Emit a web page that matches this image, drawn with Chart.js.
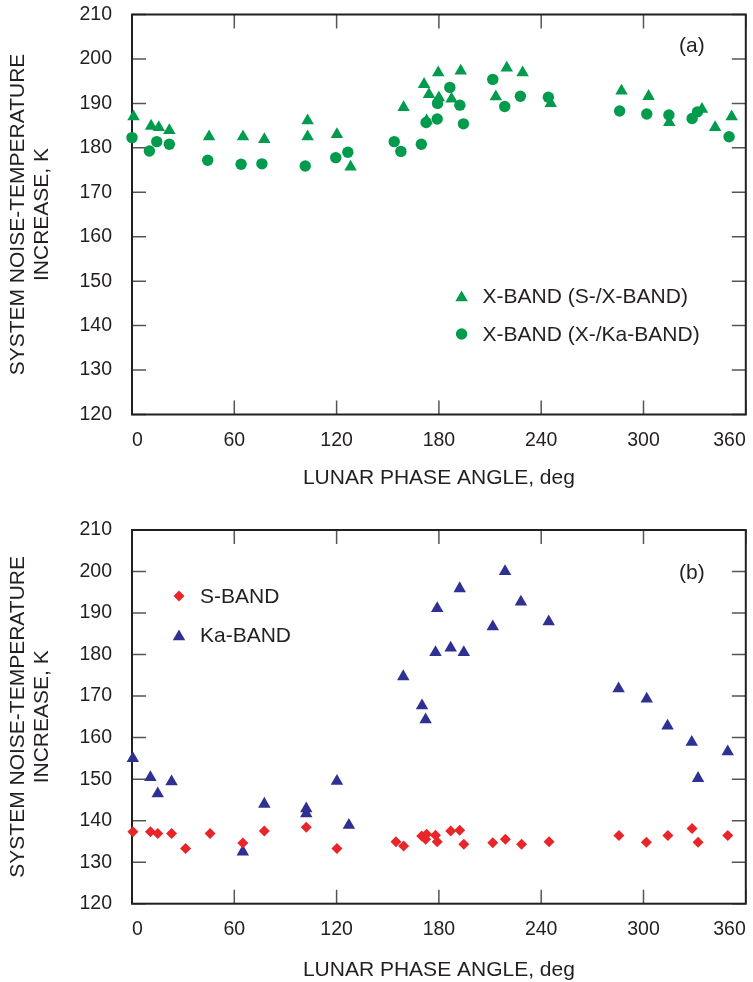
<!DOCTYPE html>
<html>
<head>
<meta charset="utf-8">
<script src="https://cdn.jsdelivr.net/npm/chart.js@4.4.0/dist/chart.umd.min.js"></script>
<style>
  html, body { margin: 0; padding: 0; background: #fff; overflow: hidden; }
  canvas { display: block; }
</style>
</head>
<body>
<canvas id="chartA" width="753" height="490"></canvas>
<canvas id="chartB" width="753" height="492"></canvas>
<script>
// panel (a): X-band, from S-/X-band and X-/Ka-band runs
const anglesXS = [0.9, 11.2, 15.7, 21.9, 45.2, 65.1, 77.6, 103, 103, 120.2, 128.2, 159.3, 171.3, 174.2, 172.8,
  179.6, 180, 187.4, 192.8, 213.4, 219.8, 229.1, 245.6, 287.1, 303, 315.1, 334.3, 342, 351.7];
const tempXS = [187.0, 184.9, 184.6, 183.9, 182.5, 182.5, 181.9, 186.1, 182.5, 183.0, 175.7, 189.1, 194.3, 192.0, 186.1,
  196.9, 191.3, 191.0, 197.3, 191.5, 198.0, 196.9, 190.0, 192.8, 191.6, 185.7, 188.7, 184.6, 187.0];

const anglesXKa = [0, 10.2, 14.5, 21.9, 44.4, 64, 76.2, 101.6, 119.5, 126.6, 153.8, 157.7, 169.7, 172.5, 179,
  179.2, 186.4, 192.3, 194.4, 211.6, 218.6, 227.8, 244.2, 286, 301.9, 314.9, 328.5, 331.7, 350.2];
const tempXKa = [182.3, 179.3, 181.4, 180.8, 177.2, 176.3, 176.4, 175.9, 177.8, 179.0, 181.4, 179.2, 180.8, 185.7, 186.5,
  190.0, 193.6, 189.6, 185.4, 195.4, 189.3, 191.6, 191.4, 188.3, 187.6, 187.4, 186.6, 188.1, 182.5];

// panel (b): S-band and Ka-band
const anglesS = [0.5, 10.8, 15.1, 23.2, 31.4, 45.8, 65, 77.6, 102.2, 120.2, 154.8, 159.3, 169.9, 172.8, 172.2,
  178, 179, 186.9, 192.2, 194.6, 211.6, 219, 228.5, 244.6, 285.6, 301.7, 314.3, 328.5, 332, 349.4];
const tempS = [137.3, 137.3, 136.9, 136.9, 133.3, 136.9, 134.6, 137.5, 138.4, 133.3, 134.9, 133.9, 136.3, 136.7, 135.5,
  136.5, 134.9, 137.5, 137.7, 134.3, 134.7, 135.5, 134.3, 134.9, 136.4, 134.8, 136.4, 138.1, 134.8, 136.4];

const anglesKa = [0.5, 10.8, 15.1, 23.2, 65, 77.6, 102.2, 102.2, 120.2, 127.2, 159.1, 170.1, 172.2, 178, 179,
  186.9, 192.2, 194.6, 211.6, 218.8, 228.1, 244.4, 285.4, 301.9, 314.1, 328.3, 332, 349.4];
const tempKa = [155.0, 150.4, 146.5, 149.4, 132.5, 144.0, 142.9, 141.7, 149.5, 138.9, 174.7, 167.7, 164.3, 180.5, 191.1,
  181.6, 195.9, 180.5, 186.7, 200.0, 192.7, 187.9, 171.8, 169.3, 162.8, 158.9, 150.2, 156.6];

const xTicks = [0, 60, 120, 180, 240, 300, 360];
const yTicks = [120, 130, 140, 150, 160, 170, 180, 190, 200, 210];

const GREEN = '#009B4D';
const RED = '#E8262A';
const BLUE = '#2E3192';
const INK = '#231F20';
const FONT = "'Liberation Sans', Arial, Helvetica, sans-serif";

function pts(xs, ys) {
  return xs.map((x, i) => ({ x: x, y: ys[i] }));
}

function drawMarker(ctx, shape, x, y, r, color) {
  ctx.fillStyle = color;
  ctx.beginPath();
  if (shape === 'triangle') {
    ctx.moveTo(x, y - r);
    ctx.lineTo(x + 0.866 * r, y + 0.5 * r);
    ctx.lineTo(x - 0.866 * r, y + 0.5 * r);
  } else if (shape === 'circle') {
    ctx.arc(x, y, r, 0, Math.PI * 2);
  } else {
    ctx.moveTo(x - r, y);
    ctx.lineTo(x, y - r);
    ctx.lineTo(x + r, y);
    ctx.lineTo(x, y + r);
  }
  ctx.closePath();
  ctx.fill();
}

// box with inward ticks on all four sides
const framePlugin = {
  id: 'frame',
  beforeDatasetsDraw(chart) {
    const { ctx, chartArea: a, scales } = chart;
    ctx.save();
    ctx.strokeStyle = '#555';
    ctx.lineWidth = 1.5;
    ctx.beginPath();
    xTicks.forEach(v => {
      const px = scales.x.getPixelForValue(v);
      ctx.moveTo(px, a.top); ctx.lineTo(px, a.top + 14);
      ctx.moveTo(px, a.bottom); ctx.lineTo(px, a.bottom - 14);
    });
    yTicks.forEach(v => {
      const py = scales.y.getPixelForValue(v);
      ctx.moveTo(a.left, py); ctx.lineTo(a.left + 14, py);
      ctx.moveTo(a.right, py); ctx.lineTo(a.right - 14, py);
    });
    ctx.stroke();
    ctx.strokeStyle = INK;
    ctx.lineWidth = 2;
    ctx.strokeRect(a.left, a.top, a.right - a.left, a.bottom - a.top);
    ctx.restore();
  }
};

function makeKey(items, dx, dy, gap, tag, tagDy) {
  return {
    id: 'key',
    afterDatasetsDraw(chart) {
      const { ctx, chartArea: a } = chart;
      ctx.save();
      ctx.font = '21px ' + FONT;
      ctx.textBaseline = 'middle';
      items.forEach((it, i) => {
        const mx = a.left + dx, my = a.top + dy + i * gap;
        drawMarker(ctx, it.shape, mx, it.shape === 'triangle' ? my + 1.7 : my, it.r, it.color);
        ctx.fillStyle = INK;
        ctx.textAlign = 'left';
        ctx.fillText(it.label, mx + 21, my + 1);
      });
      ctx.textAlign = 'center';
      ctx.fillText(tag, a.right - 54, a.top + tagDy);
      ctx.restore();
    }
  };
}

function makeChart(id, datasets, padTop, xHeight, titlePadBottom, key) {
  return new Chart(document.getElementById(id), {
    type: 'scatter',
    data: { datasets: datasets },
    options: {
      responsive: false,
      animation: false,
      events: [],
      layout: { padding: { top: padTop, left: 0, right: 2, bottom: 0 } },
      plugins: { legend: { display: false }, tooltip: { enabled: false } },
      scales: {
        x: {
          type: 'linear', min: 0, max: 360,
          afterBuildTicks: s => { s.ticks = xTicks.map(v => ({ value: v })); },
          afterFit: s => { s.height = xHeight; s.paddingLeft = 0; s.paddingRight = 0; },
          grid: { display: false, drawTicks: false },
          border: { display: false },
          ticks: { color: INK, font: { family: FONT, size: 19.5 }, padding: 14, align: 'inner', maxRotation: 0 },
          title: {
            display: true, text: 'LUNAR PHASE ANGLE, deg', color: INK,
            font: { family: FONT, size: 21, lineHeight: 1.15 },
            padding: { top: 0, bottom: titlePadBottom }
          }
        },
        y: {
          type: 'linear', min: 120, max: 210,
          afterBuildTicks: s => { s.ticks = yTicks.map(v => ({ value: v })); },
          afterFit: s => { s.width = 132; s.paddingTop = 0; s.paddingBottom = 0; },
          grid: { display: false, drawTicks: false },
          border: { display: false },
          ticks: { color: INK, font: { family: FONT, size: 19.5 }, padding: 20 },
          title: {
            display: true, text: ['SYSTEM NOISE-TEMPERATURE', 'INCREASE, K'], color: INK,
            font: { family: FONT, size: 21, lineHeight: 1.15 },
            padding: { top: 6, bottom: 0 }
          }
        }
      }
    },
    plugins: [framePlugin, key]
  });
}

makeChart('chartA', [
  { label: 'X-BAND (X-/Ka-BAND)', data: pts(anglesXKa, tempXKa), pointStyle: 'circle', pointRadius: 5.7,
    backgroundColor: GREEN, borderColor: GREEN, borderWidth: 0, clip: false },
  { label: 'X-BAND (S-/X-BAND)', data: pts(anglesXS, tempXS), pointStyle: 'triangle', pointRadius: 7.2,
    backgroundColor: GREEN, borderColor: GREEN, borderWidth: 0, clip: false }
], 14.5, 75.5, 0, makeKey([
  { label: 'X-BAND (S-/X-BAND)', shape: 'triangle', r: 7.2, color: GREEN },
  { label: 'X-BAND (X-/Ka-BAND)', shape: 'circle', r: 5.7, color: GREEN }
], 329.6, 281.5, 38, '(a)', 32));

makeChart('chartB', [
  { label: 'S-BAND', data: pts(anglesS, tempS), pointStyle: 'rectRot', pointRadius: 5.5,
    backgroundColor: RED, borderColor: RED, borderWidth: 0, clip: false },
  { label: 'Ka-BAND', data: pts(anglesKa, tempKa), pointStyle: 'triangle', pointRadius: 7.2,
    backgroundColor: BLUE, borderColor: BLUE, borderWidth: 0, clip: false }
], 40, 78.3, 0, makeKey([
  { label: 'S-BAND', shape: 'rectRot', r: 5.5, color: RED },
  { label: 'Ka-BAND', shape: 'triangle', r: 7.2, color: BLUE }
], 47, 66, 39, '(b)', 43));
</script>
</body>
</html>
